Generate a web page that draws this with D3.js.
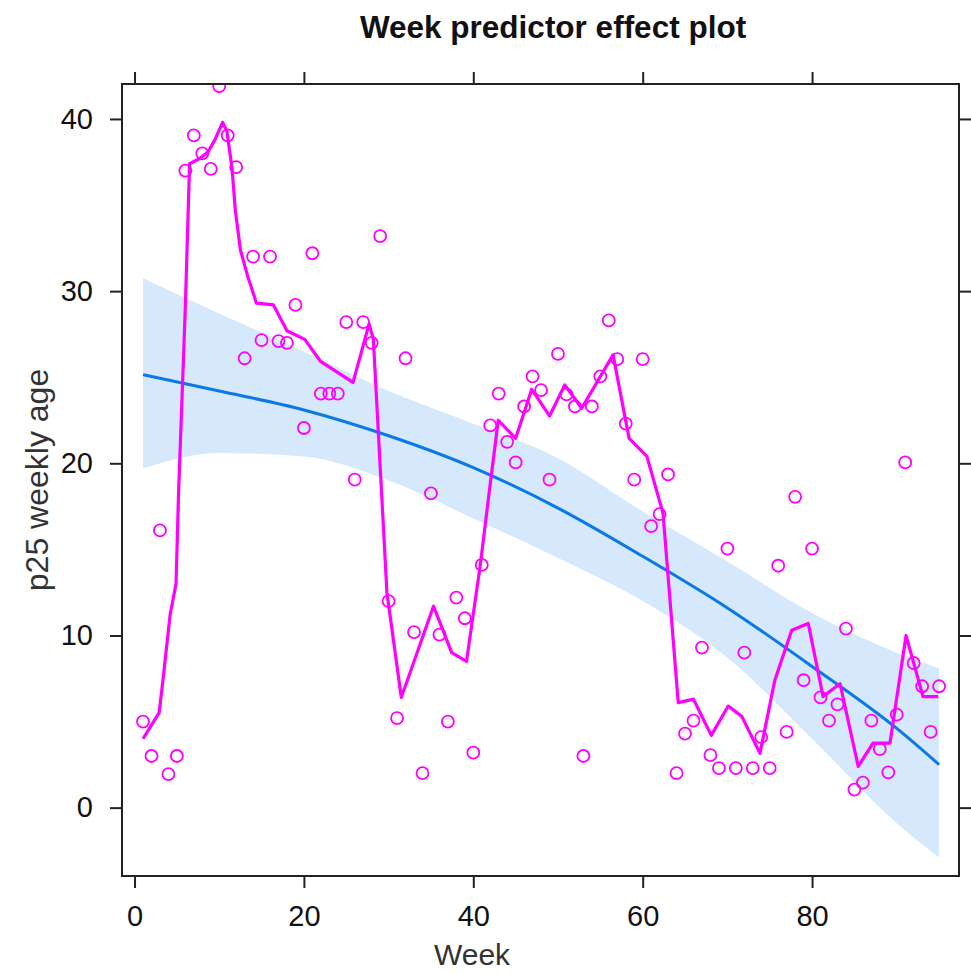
<!DOCTYPE html>
<html>
  <head>
    <title>Week predictor effect plot</title>
    <script src="https://d3js.org/d3.v7.min.js"></script>
    <style>
      body { margin: 0; background: #fff; }
      text { font-family: "Liberation Sans", Arial, sans-serif; }
    </style>
  </head>
  <body>
    <svg width="971" height="974"></svg>
</body>
</html>
<script>

// observed weekly values (open circles)
const weeks = [1, 2, 3, 4, 5, 6, 7, 8, 9, 10, 11, 12, 13, 14, 15, 16, 17, 18, 19, 20,
  21, 22, 23, 24, 25, 26, 27, 28, 29, 30, 31, 32, 33, 34, 35, 36, 37, 38, 39, 40,
  41, 42, 43, 44, 45, 46, 47, 48, 49, 50, 51, 52, 53, 54, 55, 56, 57, 58, 59, 60,
  61, 62, 63, 64, 65, 66, 67, 68, 69, 70, 71, 72, 73, 74, 75, 76, 77, 78, 79, 80,
  81, 82, 83, 84, 85, 86, 87, 88, 89, 90, 91, 92, 93, 94, 95];
const pointValues = [5.0, 3.0, 16.1, 1.95, 3.0, 37.0, 39.05, 38.0, 37.1, 41.9,
  39.05, 37.2, 26.1, 32.0, 27.15, 32.0, 27.1, 27.0, 29.2, 22.05,
  32.2, 24.05, 24.05, 24.05, 28.2, 19.05, 28.2, 27.0, 33.2, 12.0,
  5.2, 26.1, 10.2, 2.0, 18.25, 10.05, 5.0, 12.2, 11.0, 3.2,
  14.1, 22.2, 24.05, 21.25, 20.05, 23.3, 25.05, 24.25, 19.05, 26.35,
  24.0, 23.3, 3.0, 23.3, 25.05, 28.3, 26.05, 22.3, 19.05, 26.05,
  16.35, 17.05, 19.35, 2.0, 4.3, 5.05, 9.3, 3.05, 2.3, 15.05,
  2.3, 9.0, 2.3, 4.1, 2.3, 14.05, 4.4, 18.05, 7.4, 15.05,
  6.4, 5.05, 6.0, 10.4, 1.05, 1.45, 5.05, 3.4, 2.05, 5.4,
  20.05, 8.4, 7.05, 4.4, 7.05];

// magenta smoother
const smoothWeek = [1.0, 2.9, 3.4, 4.2, 4.9, 5.2, 6.0, 6.5, 7.7, 8.7, 9.5, 10.4, 10.9,
  11.5, 11.9, 12.5, 13.4, 14.4, 16.4, 18.0, 20.1, 22.0, 25.8, 27.7, 28.2, 29.8, 31.5,
  35.3, 37.45, 39.2, 40.8, 42.0, 42.95, 45.0, 46.9, 49.0, 50.8, 52.8, 56.5, 58.4, 60.5,
  62.4, 64.2, 66.0, 68.1, 70.1, 71.7, 73.85, 75.6, 77.6, 79.55, 81.3, 83.3, 85.45,
  87.2, 89.2, 91.1, 93.1, 94.9];
const smoothValue = [4.0, 5.5, 7.6, 11.2, 13.0, 18.3, 29.1, 37.4, 37.7, 38.1, 38.8, 39.8, 39.3,
  37.2, 34.7, 32.4, 30.8, 29.3, 29.2, 27.7, 27.2, 25.9, 24.7, 28.1, 27.2, 12.5, 6.4,
  11.7, 9.0, 8.5, 14.0, 18.8, 22.5, 21.45, 24.3, 22.75, 24.55, 23.2, 26.3, 21.45, 20.4,
  17.1, 6.1, 6.3, 4.2, 5.9, 5.3, 3.15, 7.4, 10.3, 10.7, 6.45, 7.2, 2.4,
  3.75, 3.75, 10.0, 6.45, 6.45];

// fitted effect and confidence band
const fitWeek = [1, 10, 20, 30, 40, 50, 60, 70, 80, 90, 95];
const fitValue = [25.15, 24.2, 23.1, 21.6, 19.75, 17.4, 14.6, 11.6, 8.2, 4.6, 2.5];
const fitUpper = [30.75, 28.7, 26.5, 24.2, 22.3, 20.3, 17.2, 14.3, 11.3, 9.0, 8.1];
const fitLower = [19.7, 20.6, 20.4, 19.0, 16.8, 14.5, 12.0, 8.7, 4.0, -0.9, -2.9];

const xTicks = [0, 20, 40, 60, 80];
const yTicks = [0, 10, 20, 30, 40];

const svg = d3.select('svg');
const pLeft = 122, pRight = 959, pTop = 84, pBottom = 876;

const x = d3.scaleLinear().domain([-1.48, 97.35]).range([pLeft, pRight]);
const y = d3.scaleLinear().domain([-3.97, 42.03]).range([pBottom, pTop]);

svg.append('clipPath').attr('id', 'panel')
  .append('rect')
  .attr('x', pLeft).attr('y', pTop)
  .attr('width', pRight - pLeft).attr('height', pBottom - pTop);

const g = svg.append('g').attr('clip-path', 'url(#panel)');

const fit = fitWeek.map((w, i) => ({w, v: fitValue[i], lo: fitLower[i], hi: fitUpper[i]}));

g.append('path')
  .datum(fit)
  .attr('d', d3.area().curve(d3.curveMonotoneX)
    .x(d => x(d.w)).y0(d => y(d.lo)).y1(d => y(d.hi)))
  .style('fill', '#d6e8fb');

g.append('path')
  .datum(fit)
  .attr('d', d3.line().curve(d3.curveMonotoneX).x(d => x(d.w)).y(d => y(d.v)))
  .style('fill', 'none')
  .style('stroke', '#0a78e6')
  .style('stroke-width', 3);

g.selectAll('circle.obs')
  .data(weeks.map((w, i) => ({w, v: pointValues[i]})))
  .enter()
  .append('circle')
  .classed('obs', true)
  .attr('cx', d => x(d.w))
  .attr('cy', d => y(d.v))
  .attr('r', 6)
  .style('fill', 'none')
  .style('stroke', '#ff00ff')
  .style('stroke-width', 1.8);

g.append('path')
  .datum(smoothWeek.map((w, i) => ({w, v: smoothValue[i]})))
  .attr('d', d3.line().x(d => x(d.w)).y(d => y(d.v)))
  .style('fill', 'none')
  .style('stroke', '#ff00ff')
  .style('stroke-width', 3.2)
  .style('stroke-linejoin', 'round');

// axes: ticks on all four sides, labels left and bottom
const styleAxis = sel => {
  sel.select('.domain').remove();
  sel.selectAll('line').style('stroke', '#222').style('stroke-width', 2);
  sel.selectAll('text').style('font-size', '29px').style('fill', '#111')
    .style('font-family', '"Liberation Sans", Arial, sans-serif');
};

svg.append('g').attr('transform', `translate(0,${pBottom})`)
  .call(d3.axisBottom(x).tickValues(xTicks).tickSize(12).tickPadding(17))
  .call(styleAxis);
svg.append('g').attr('transform', `translate(0,${pTop})`)
  .call(d3.axisTop(x).tickValues(xTicks).tickSize(12).tickFormat(''))
  .call(styleAxis);
svg.append('g').attr('transform', `translate(${pLeft},0)`)
  .call(d3.axisLeft(y).tickValues(yTicks).tickSize(12).tickPadding(17))
  .call(styleAxis);
svg.append('g').attr('transform', `translate(${pRight},0)`)
  .call(d3.axisRight(y).tickValues(yTicks).tickSize(12).tickFormat(''))
  .call(styleAxis);

svg.append('rect')
  .attr('x', pLeft).attr('y', pTop)
  .attr('width', pRight - pLeft).attr('height', pBottom - pTop)
  .style('fill', 'none')
  .style('stroke', '#222')
  .style('stroke-width', 2);

svg.append('text')
  .attr('x', 553).attr('y', 38)
  .attr('text-anchor', 'middle')
  .style('font-size', '31.5px').style('font-weight', 'bold').style('fill', '#111')
  .text('Week predictor effect plot');

svg.append('text')
  .attr('x', 472).attr('y', 965)
  .attr('text-anchor', 'middle')
  .style('font-size', '30px').style('fill', '#333')
  .text('Week');

svg.append('text')
  .attr('transform', `translate(48,${(pTop + pBottom) / 2}) rotate(-90)`)
  .attr('text-anchor', 'middle')
  .style('font-size', '32px').style('fill', '#333')
  .text('p25 weekly age');

</script>
